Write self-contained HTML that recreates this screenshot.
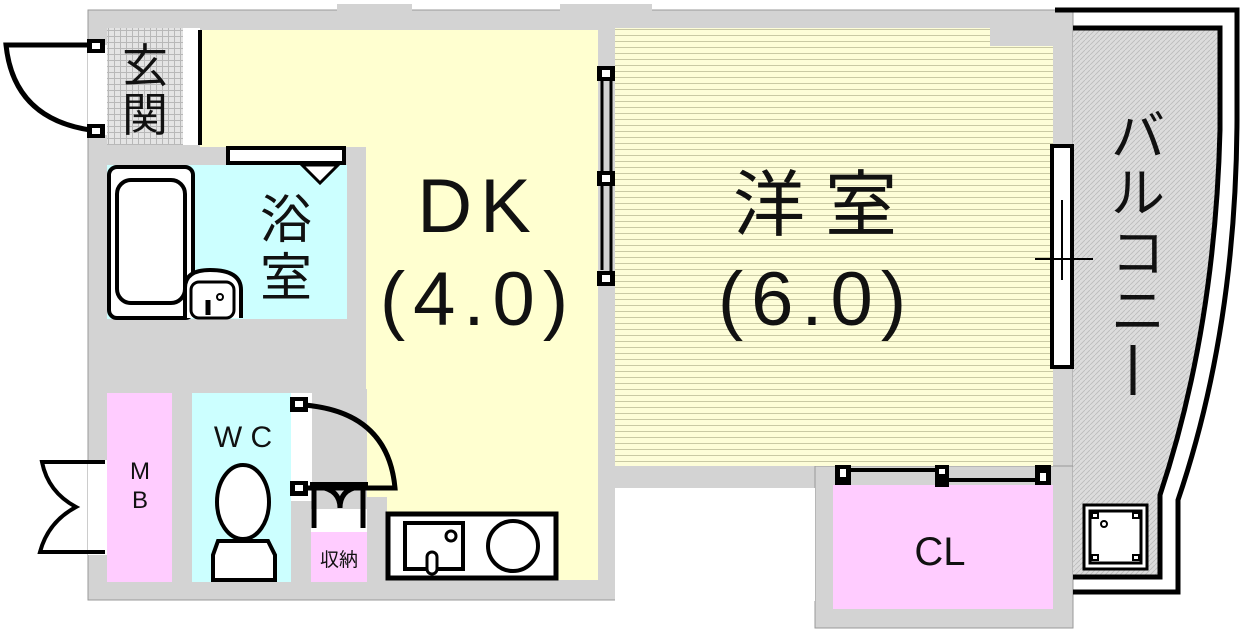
<!DOCTYPE html>
<html><head><meta charset="utf-8"><style>
html,body{margin:0;padding:0;background:#fff;width:1249px;height:631px;overflow:hidden}
text{font-family:"Liberation Sans","Noto Sans CJK JP",sans-serif;fill:#111}
</style></head><body>
<svg width="1249" height="631" viewBox="0 0 1249 631" xmlns="http://www.w3.org/2000/svg">
<defs>
<pattern id="hl" width="8" height="6" patternUnits="userSpaceOnUse"><rect width="8" height="6" fill="#fdfdd8"/><line x1="0" y1="5.5" x2="8" y2="5.5" stroke="#c9c9a4" stroke-width="1"/></pattern>
<pattern id="tile" width="6" height="6" patternUnits="userSpaceOnUse"><rect width="6" height="6" fill="#e4e4e4"/><path d="M0 0.5H6M0.5 0V6" stroke="#b8b8b8" stroke-width="1"/></pattern>
<pattern id="diag" width="5" height="5" patternUnits="userSpaceOnUse"><rect width="5" height="5" fill="#dcdcdc"/><path d="M0 5L5 0" stroke="#bbb" stroke-width="0.8"/></pattern>
</defs>
<rect x="88" y="10" width="985" height="590" fill="#d3d3d3" stroke="#999" stroke-width="1"/>
<rect x="815" y="466" width="258" height="162" fill="#d3d3d3" stroke="#999" stroke-width="1"/>
<rect x="615" y="488" width="200" height="113" fill="#fff"/>
<rect x="337" y="4" width="75" height="34" fill="#d3d3d3"/>
<rect x="560" y="4" width="92" height="34" fill="#d3d3d3"/>
<path d="M200 30H598V580H387V497H367V389H366V147H200Z" fill="#ffffd0"/>
<rect x="183" y="28" width="17" height="117" fill="#fff"/>
<line x1="200" y1="30" x2="200" y2="145" stroke="#000" stroke-width="4"/>
<rect x="615" y="28" width="438" height="438" fill="url(#hl)"/>
<rect x="990" y="28" width="63" height="18" fill="#d3d3d3"/>
<rect x="107" y="28" width="76" height="117" fill="url(#tile)"/>
<text x="145" y="82" font-size="46" text-anchor="middle">玄</text>
<text x="145" y="131" font-size="46" text-anchor="middle">関</text>
<rect x="88" y="45" width="19" height="90" fill="#fff"/>
<path d="M98 45H6Q14 122 98 131" fill="none" stroke="#000" stroke-width="5"/>
<rect x="87" y="39" width="18" height="14" fill="#000"/><rect x="92" y="43" width="8" height="6" fill="#fff"/>
<rect x="87" y="124" width="18" height="14" fill="#000"/><rect x="92" y="128" width="8" height="6" fill="#fff"/>
<rect x="107" y="165" width="240" height="154" fill="#ccffff"/>
<rect x="228" y="148" width="116" height="15" fill="#fff" stroke="#000" stroke-width="4"/>
<path d="M302 165L320 183L338 165Z" fill="#fff" stroke="#000" stroke-width="3"/>
<rect x="109" y="167" width="84" height="151" rx="8" fill="#fff" stroke="#000" stroke-width="4"/>
<rect x="117" y="180" width="68" height="123" rx="14" fill="#fff" stroke="#000" stroke-width="4"/>
<path d="M185 318V288Q185 270 210 270Q241 270 241 290V318" fill="#fff" stroke="#000" stroke-width="4"/>
<rect x="191" y="282" width="43" height="36" rx="8" fill="#fff" stroke="#000" stroke-width="3"/>
<circle cx="220" cy="297" r="3" fill="none" stroke="#000" stroke-width="2"/>
<line x1="208" y1="300" x2="208" y2="315" stroke="#000" stroke-width="5"/>
<text x="286" y="238" font-size="52" text-anchor="middle">浴</text>
<text x="286" y="296" font-size="52" text-anchor="middle">室</text>
<rect x="107" y="393" width="65" height="189" fill="#ffccff"/>
<text x="140" y="479" font-size="24" text-anchor="middle">M</text>
<text x="140" y="508" font-size="24" text-anchor="middle">B</text>
<rect x="88" y="460" width="19" height="95" fill="#fff"/>
<path d="M105 462H85M85 462H42Q48 492 76 507Q48 522 40 552H105" fill="none" stroke="#000" stroke-width="4"/>
<rect x="192" y="393" width="99" height="189" fill="#ccffff"/>
<text x="243" y="447" font-size="30" text-anchor="middle">W C</text>
<ellipse cx="243" cy="502" rx="26" ry="37" fill="#fff" stroke="#000" stroke-width="4"/>
<path d="M218 541H268L275 555V580H213V555Z" fill="#fff" stroke="#000" stroke-width="4"/>
<rect x="291" y="393" width="21" height="108" fill="#fff"/>
<path d="M304 405Q388 412 395 488H305" fill="none" stroke="#000" stroke-width="5"/>
<rect x="290" y="397" width="18" height="15" fill="#000"/><rect x="295" y="401" width="8" height="6" fill="#fff"/>
<rect x="290" y="481" width="18" height="15" fill="#000"/><rect x="295" y="485" width="8" height="6" fill="#fff"/>
<rect x="311" y="509" width="56" height="23" fill="#fff"/>
<rect x="311" y="532" width="56" height="50" fill="#ffccff"/>
<text x="339" y="566" font-size="19" text-anchor="middle">収納</text>
<path d="M314 485V528M363 485V528M320 487Q340 490 340 508Q340 490 358 487" fill="none" stroke="#000" stroke-width="5"/>
<line x1="310" y1="484" x2="368" y2="484" stroke="#000" stroke-width="4"/>
<rect x="388" y="514" width="168" height="64" fill="#fff" stroke="#000" stroke-width="5"/>
<rect x="405" y="523" width="58" height="46" fill="#fff" stroke="#000" stroke-width="4"/>
<circle cx="451" cy="536" r="5" fill="none" stroke="#000" stroke-width="3"/>
<rect x="427" y="552" width="10" height="22" rx="5" fill="#fff" stroke="#000" stroke-width="3"/>
<circle cx="513" cy="546" r="25" fill="#fff" stroke="#000" stroke-width="4"/>
<text x="478" y="232" font-size="76" letter-spacing="8" text-anchor="middle">DK</text>
<text x="478" y="325" font-size="76" letter-spacing="8" text-anchor="middle">(4.0)</text>
<line x1="611" y1="72" x2="611" y2="280" stroke="#000" stroke-width="3"/>
<line x1="602" y1="80" x2="602" y2="270" stroke="#000" stroke-width="3"/>
<rect x="597" y="66" width="18" height="15" fill="#000"/><rect x="602" y="70" width="8" height="7" fill="#fff"/>
<rect x="597" y="171" width="18" height="15" fill="#000"/><rect x="602" y="175" width="8" height="7" fill="#fff"/>
<rect x="597" y="271" width="18" height="15" fill="#000"/><rect x="602" y="275" width="8" height="7" fill="#fff"/>
<text x="815" y="230" font-size="72" text-anchor="middle">洋 室</text>
<text x="816" y="325" font-size="76" letter-spacing="8" text-anchor="middle">(6.0)</text>
<rect x="833" y="485" width="220" height="124" fill="#ffccff"/>
<text x="940" y="565" font-size="40" text-anchor="middle">CL</text>
<path d="M850 470H940M945 480H1038" stroke="#000" stroke-width="4"/>
<rect x="835" y="465" width="16" height="20" fill="#000"/><rect x="840" y="469" width="6" height="8" fill="#fff"/>
<rect x="935" y="465" width="14" height="22" fill="#000"/><rect x="939" y="469" width="6" height="5" fill="#fff"/>
<rect x="1035" y="465" width="16" height="20" fill="#000"/><rect x="1040" y="473" width="6" height="8" fill="#fff"/>
<path d="M1073 28H1220V130Q1215 330 1160 495V577H1073Z" fill="url(#diag)"/>
<path d="M1073 28H1220V130Q1215 330 1160 495V577H1073" fill="none" stroke="#000" stroke-width="5"/>
<path d="M1055 10H1237V120Q1236 330 1178 500V592H1073" fill="none" stroke="#000" stroke-width="5"/>
<rect x="1052" y="146" width="20" height="221" fill="#fff" stroke="#000" stroke-width="4"/>
<line x1="1062" y1="200" x2="1062" y2="280" stroke="#000" stroke-width="2"/>
<line x1="1035" y1="259" x2="1093" y2="259" stroke="#000" stroke-width="2"/>
<rect x="1084" y="505" width="63" height="64" fill="#fff" stroke="#000" stroke-width="3"/>
<rect x="1090" y="511" width="51" height="52" fill="#fff" stroke="#000" stroke-width="3"/>
<rect x="1092" y="513" width="6" height="5" fill="none" stroke="#000" stroke-width="2"/>
<rect x="1133" y="513" width="6" height="5" fill="none" stroke="#000" stroke-width="2"/>
<rect x="1092" y="555" width="6" height="5" fill="none" stroke="#000" stroke-width="2"/>
<rect x="1133" y="555" width="6" height="5" fill="none" stroke="#000" stroke-width="2"/>
<circle cx="1104" cy="524" r="3" fill="none" stroke="#000" stroke-width="2"/>
<text x="1138" y="155" font-size="54" text-anchor="middle">バ</text>
<text x="1138" y="212" font-size="54" text-anchor="middle">ル</text>
<text x="1138" y="272" font-size="54" text-anchor="middle">コ</text>
<text x="1138" y="330" font-size="54" text-anchor="middle">ニ</text>
<line x1="1133" y1="345" x2="1133" y2="395" stroke="#111" stroke-width="5"/>
</svg>
</body></html>
